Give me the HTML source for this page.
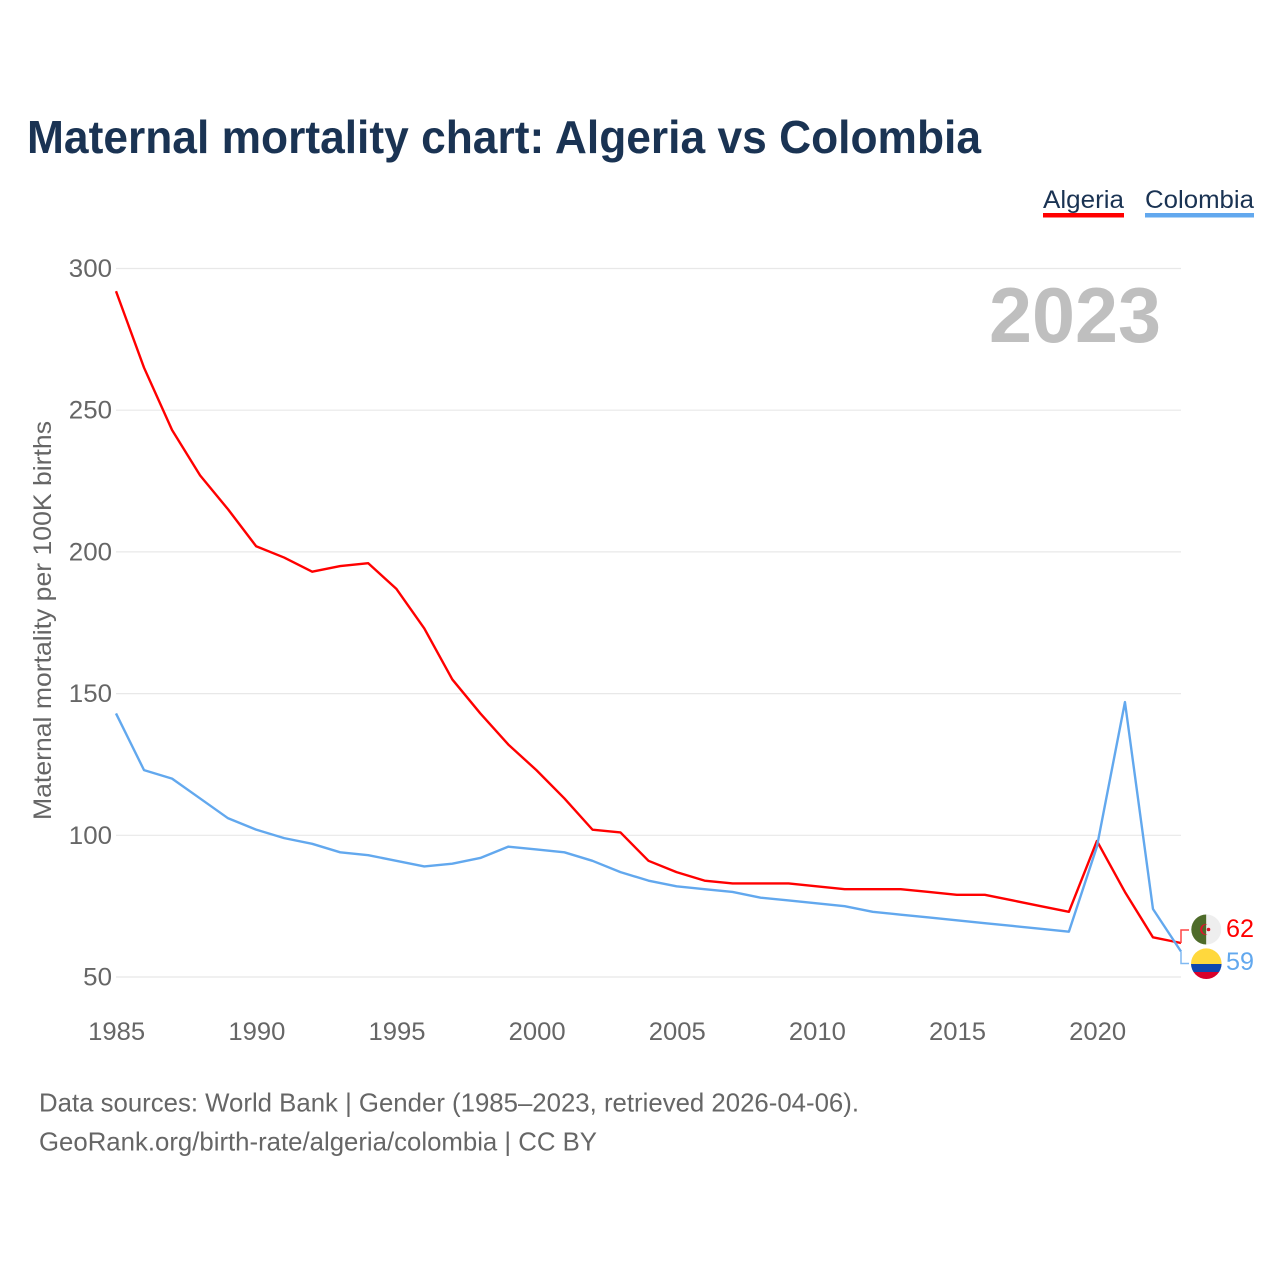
<!DOCTYPE html>
<html lang="en">
<head>
<meta charset="utf-8">
<title>Maternal mortality chart: Algeria vs Colombia</title>
<style>
html,body{margin:0;padding:0;background:#fff;width:1280px;height:1280px;overflow:hidden}
svg{display:block;font-family:"Liberation Sans",sans-serif}
</style>
</head>
<body>
<svg id="chart" xmlns="http://www.w3.org/2000/svg" width="1280" height="1280" viewBox="0 0 1280 1280">
  <rect x="0" y="0" width="1280" height="1280" fill="#ffffff"/>
  <text x="27" y="153" font-size="46" font-weight="700" fill="#1a3353" textLength="954" lengthAdjust="spacingAndGlyphs">Maternal mortality chart: Algeria vs Colombia</text>
  <g>
    <text x="1043" y="208" font-size="25" fill="#1a3353" textLength="81" lengthAdjust="spacingAndGlyphs">Algeria</text>
    <rect x="1043" y="213" width="81" height="4.5" fill="#ff0000"/>
  </g>
  <g>
    <text x="1145" y="208" font-size="25" fill="#1a3353" textLength="109" lengthAdjust="spacingAndGlyphs">Colombia</text>
    <rect x="1145" y="213" width="109" height="4.5" fill="#62a8ee"/>
  </g>
  <g id="grid"></g>
  <g id="y-ticks"></g>
  <g id="x-ticks"></g>
  <text transform="translate(51 820) rotate(-90)" font-size="25" fill="#666666" textLength="399" lengthAdjust="spacingAndGlyphs">Maternal mortality per 100K births</text>
  <text x="989" y="342" font-size="78" font-weight="700" fill="#bfbfbf" textLength="172" lengthAdjust="spacingAndGlyphs">2023</text>
  <g id="series"></g>
  <g>
    <clipPath id="clip-dz"><circle cx="1206.3" cy="929.5" r="15"/></clipPath>
    <g clip-path="url(#clip-dz)">
      <rect x="1191" y="914" width="15.3" height="31" fill="#4e6b2a"/>
      <rect x="1206.3" y="914" width="15" height="31" fill="#eeeeee"/>
      <path d="M1207.5 924.2 A5.6 5.6 0 1 0 1207.5 934.8 A4.6 4.6 0 1 1 1207.5 924.2 Z" fill="#e0142c"/>
      <circle cx="1208.5" cy="929.5" r="1.8" fill="#e0142c"/>
    </g>
  </g>
  <g>
    <clipPath id="clip-co"><circle cx="1206.3" cy="963.7" r="15.3"/></clipPath>
    <g clip-path="url(#clip-co)">
      <rect x="1190" y="948" width="32" height="16" fill="#ffd83d"/>
      <rect x="1190" y="964" width="32" height="8" fill="#0f47af"/>
      <rect x="1190" y="972" width="32" height="8" fill="#d8002a"/>
    </g>
  </g>
  <g id="end-labels"></g>
  <text x="39" y="1111.5" font-size="26" fill="#666666" textLength="820" lengthAdjust="spacingAndGlyphs">Data sources: World Bank | Gender (1985–2023, retrieved 2026-04-06).</text>
  <text x="39" y="1150.5" font-size="26" fill="#666666" textLength="558" lengthAdjust="spacingAndGlyphs">GeoRank.org/birth-rate/algeria/colombia | CC BY</text>
</svg>
<script>
const years = [1985,1986,1987,1988,1989,1990,1991,1992,1993,1994,1995,1996,1997,1998,1999,2000,2001,2002,2003,2004,2005,2006,2007,2008,2009,2010,2011,2012,2013,2014,2015,2016,2017,2018,2019,2020,2021,2022,2023];
const algeria = [292,265,243,227,215,202,198,193,195,196,187,173,155,143,132,123,113,102,101,91,87,84,83,83,83,82,81,81,81,80,79,79,77,75,73,98,80,64,62];
const colombia = [143,123,120,113,106,102,99,97,94,93,91,89,90,92,96,95,94,91,87,84,82,81,80,78,77,76,75,73,72,71,70,69,68,67,66,96,147,74,59];
const yTickValues = [50,100,150,200,250,300];
const xTickValues = [1985,1990,1995,2000,2005,2010,2015,2020];

const NS = 'http://www.w3.org/2000/svg';
const xLeft = 116, xRight = 1181, yBottom = 977, yTop = 268.5;
const x = v => xLeft + (v - years[0]) / (years[years.length - 1] - years[0]) * (xRight - xLeft);
const y = v => yBottom - (v - 50) / 250 * (yBottom - yTop);
const mk = (tag, parent) => { const e = document.createElementNS(NS, tag); parent.appendChild(e); return e; };
const grid = document.getElementById('grid');
const yTicks = document.getElementById('y-ticks');
const xTicks = document.getElementById('x-ticks');
const series = document.getElementById('series');
const endLabels = document.getElementById('end-labels');

yTickValues.forEach(v => {
  const l = mk('line', grid);
  
  
  l.setAttribute('x1', xLeft);
  l.setAttribute('x2', xRight);
  l.setAttribute('y1', y(v));
  l.setAttribute('y2', y(v));
  l.setAttribute('stroke', '#e8e8e8');
  l.setAttribute('stroke-width', '1.2');
  const t = mk('text', yTicks);
  
  
  t.setAttribute('x', 112);
  t.setAttribute('y', y(v) + 8.5);
  t.setAttribute('text-anchor', 'end');
  t.setAttribute('font-size', '25');
  t.setAttribute('fill', '#666666');
  t.setAttribute('textLength', String(v).length * 14.4);
  t.setAttribute('lengthAdjust', 'spacingAndGlyphs');
  t.textContent = v;
});

xTickValues.forEach(v => {
  const t = mk('text', xTicks);
  
  
  t.setAttribute('x', x(v) + 0.7);
  t.setAttribute('y', 1040);
  t.setAttribute('text-anchor', 'middle');
  t.setAttribute('font-size', '25');
  t.setAttribute('fill', '#666666');
  t.setAttribute('textLength', '57');
  t.setAttribute('lengthAdjust', 'spacingAndGlyphs');
  t.textContent = v;
});

function drawLine(values, color, name) {
  const p = mk('polyline', series);
  
  
  p.setAttribute('points', values.map((v, i) => x(years[i]) + ',' + y(v)).join(' '));
  p.setAttribute('fill', 'none');
  p.setAttribute('stroke', color);
  p.setAttribute('stroke-width', '2.4');
  p.setAttribute('stroke-linejoin', 'round');
}
drawLine(algeria, '#ff0000', 'line-algeria');
drawLine(colombia, '#62a8ee', 'line-colombia');

function drawEnd(values, color, connColor, labelY, connY, name) {
  const last = values[values.length - 1];
  const c = mk('polyline', endLabels);
  
  
  c.setAttribute('points', xRight + ',' + y(last) + ' ' + xRight + ',' + connY + ' 1189,' + connY);
  c.setAttribute('fill', 'none');
  c.setAttribute('stroke', connColor);
  c.setAttribute('stroke-width', '1.5');
  const t = mk('text', endLabels);
  
  
  t.setAttribute('x', 1226);
  t.setAttribute('y', labelY);
  t.setAttribute('font-size', '25');
  t.setAttribute('fill', color);
  t.setAttribute('textLength', '28');
  t.setAttribute('lengthAdjust', 'spacingAndGlyphs');
  t.textContent = last;
}
drawEnd(algeria, '#ff0000', '#ff4444', 937, 930, 'algeria');
drawEnd(colombia, '#62a8ee', '#80b9f2', 970, 963.5, 'colombia');
</script>
</body>
</html>
